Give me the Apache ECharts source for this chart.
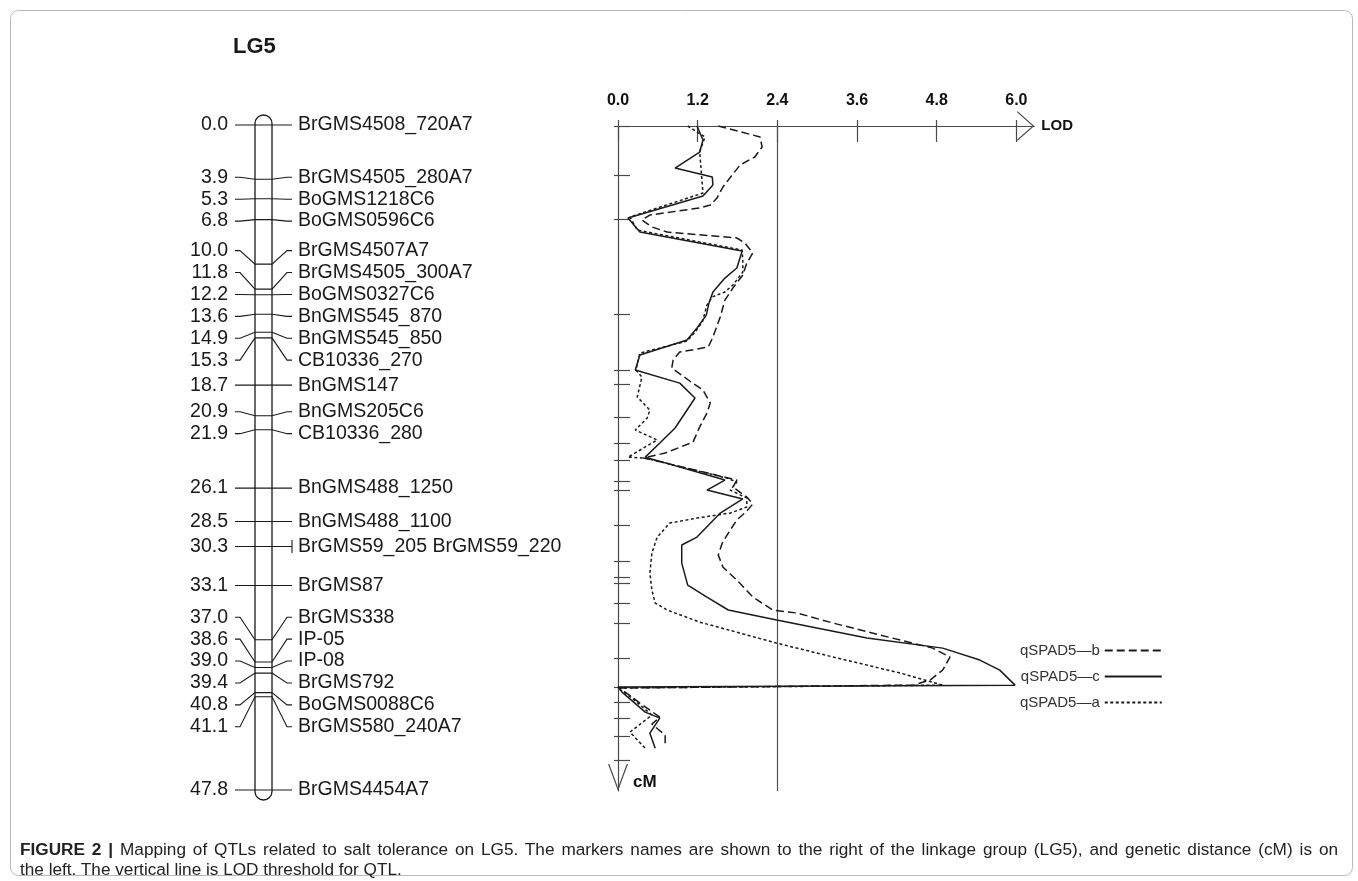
<!DOCTYPE html>
<html>
<head>
<meta charset="utf-8">
<title>LG5 QTL map</title>
<script src="https://cdn.jsdelivr.net/npm/echarts@6/dist/echarts.min.js"></script>
<style>
  html, body { margin: 0; padding: 0; background: #fff; }
  #chart { position: absolute; left: 0; top: 0; width: 1358px; height: 881px; }
  #caption { position: absolute; left: 20px; top: 839px; width: 1318px;
             font: 17.2px "Liberation Sans", Arial, sans-serif; color: #222; line-height: 20px; }
  #caption .l1 { text-align: justify; text-align-last: justify; }
</style>
</head>
<body>
<div id="chart"></div>
<div id="caption">
  <div class="l1"><b>FIGURE 2 |</b> Mapping of QTLs related to salt tolerance on LG5. The markers names are shown to the right of the linkage group (LG5), and genetic distance (cM) is on</div>
  <div>the left. The vertical line is LOD threshold for QTL.</div>
</div>
<script>
// ---- linkage group LG5: marker positions (cM) and names ----
const lgName = 'LG5';
const lgLength = 47.8;
const markerCM = [0.0, 3.9, 5.3, 6.8, 10.0, 11.8, 12.2, 13.6, 14.9, 15.3, 18.7, 20.9, 21.9,
                  26.1, 28.5, 30.3, 33.1, 37.0, 38.6, 39.0, 39.4, 40.8, 41.1, 47.8];
const markerNames = ['BrGMS4508_720A7', 'BrGMS4505_280A7', 'BoGMS1218C6', 'BoGMS0596C6',
  'BrGMS4507A7', 'BrGMS4505_300A7', 'BoGMS0327C6', 'BnGMS545_870', 'BnGMS545_850',
  'CB10336_270', 'BnGMS147', 'BnGMS205C6', 'CB10336_280', 'BnGMS488_1250', 'BnGMS488_1100',
  'BrGMS59_205 BrGMS59_220', 'BrGMS87', 'BrGMS338', 'IP-05', 'IP-08', 'BrGMS792',
  'BoGMS0088C6', 'BrGMS580_240A7', 'BrGMS4454A7'];

// ---- LOD profile axes ----
const lodTicks = [0.0, 1.2, 2.4, 3.6, 4.8, 6.0];
const cmTicks = [0, 3.52, 6.69, 13.52, 17.59, 18.57, 20.90, 22.77, 24.01, 25.50, 26.17, 28.68,
                 31.32, 32.40, 32.88, 34.32, 35.75, 38.27, 40.31, 41.39, 42.58, 43.83, 45.58];
const lodThreshold = 2.4;

// ---- LOD profiles, [LOD, cM] ----
const qSPAD5b = [[1.51,0],[2.14,0.79],[2.17,1.51],[2.06,2.23],[1.84,2.80],[1.72,3.52],[1.58,4.39],
  [1.49,5.18],[1.39,5.68],[1.23,5.89],[0.48,6.40],[0.36,6.76],[0.51,7.26],[0.74,7.62],[1.79,8.05],
  [1.91,8.41],[2.03,9.13],[1.94,9.85],[1.88,10.71],[1.73,11.65],[1.61,12.51],[1.54,13.73],
  [1.43,15.17],[1.36,15.89],[0.93,16.25],[0.83,16.82],[0.81,17.40],[1.08,18.33],[1.28,18.98],
  [1.39,19.91],[1.34,20.63],[1.23,21.64],[1.13,22.72],[0.71,23.51],[0.38,23.87],[0.53,24.01],
  [1.79,25.45],[1.73,25.95],[1.94,26.67],[2.03,27.17],[1.94,27.68],[1.79,28.32],[1.69,29.04],
  [1.57,29.98],[1.51,30.84],[1.58,31.70],[1.79,32.64],[2.03,33.86],[2.33,34.79],[2.70,35.01],
  [3.24,35.73],[4.25,36.95],[4.74,37.53],[5.00,38.17],[4.89,39.11],[4.70,39.83],[4.44,40.19],
  [0.03,40.40],[0.33,41.48],[0.63,42.49],[0.51,42.99],[0.71,43.78],[0.71,44.50]];
const qSPAD5c = [[1.19,0],[1.28,1.01],[1.23,1.87],[0.86,3.02],[1.42,3.67],[1.43,4.24],[1.28,5.03],
  [0.15,6.61],[0.33,7.62],[1.87,8.99],[1.79,10.21],[1.61,10.93],[1.43,11.93],[1.37,12.72],
  [1.33,13.59],[1.19,14.52],[1.04,15.38],[0.33,16.46],[0.26,17.54],[0.93,18.48],[1.16,19.55],
  [0.86,21.71],[0.63,22.79],[0.41,23.80],[1.61,25.45],[1.34,26.17],[1.88,26.81],[1.54,27.82],
  [1.19,29.55],[0.96,30.12],[0.96,31.42],[1.05,33.00],[1.34,33.86],[1.66,34.79],[2.39,35.51],
  [3.75,36.81],[4.89,37.53],[5.45,38.39],[5.75,39.11],[5.98,40.19],[0.00,40.33],[0.06,40.69],
  [0.41,42.13],[0.63,42.56],[0.48,43.64],[0.56,44.72]];
const qSPAD5a = [[1.05,0],[1.31,0.79],[1.23,1.87],[1.28,4.82],[0.18,6.54],[0.29,7.48],[1.87,8.92],
  [1.88,9.78],[1.88,10.50],[1.73,11.43],[1.61,11.93],[1.42,12.29],[1.34,12.87],[1.27,14.09],
  [1.16,14.81],[1.04,15.46],[0.33,16.32],[0.27,17.54],[0.36,18.04],[0.29,19.48],[0.48,20.42],
  [0.44,20.99],[0.26,21.85],[0.59,22.57],[0.15,23.80],[0.41,23.87],[1.64,25.31],[1.79,25.59],
  [1.69,26.17],[1.94,26.74],[1.94,27.39],[1.69,27.82],[1.19,28.18],[0.78,28.54],[0.59,29.55],
  [0.51,30.70],[0.48,32.14],[0.51,33.36],[0.56,34.29],[0.74,34.79],[1.23,35.66],[2.39,37.17],
  [3.24,38.17],[4.25,39.32],[4.89,40.19],[0.00,40.40],[0.21,41.12],[0.51,42.34],[0.18,43.57],
  [0.41,44.72]];

// ---- drawing constants ----
const INK = '#1a1a1a';
const AXIS_INK = '#4a4a4a';
const SANS = '"Liberation Sans", Arial, sans-serif';
const LG_FONT = '19.5px "Liberation Sans", Arial, sans-serif';
const LG_HEIGHT = 665;
const LABEL_GAP_PX = 21.9;

// Spread marker labels so neighbouring ones keep a minimum gap; overlapping runs
// are merged and centred on their markers (least squares).
function spreadLabels(pos, gap) {
  const groups = pos.map((p, i) => ({ first: i, n: 1, start: p }));
  const place = g => {
    let s = 0;
    for (let k = 0; k < g.n; k++) s += pos[g.first + k] - k * gap;
    g.start = s / g.n;
  };
  let merged = true;
  while (merged) {
    merged = false;
    for (let i = 0; i < groups.length - 1; i++) {
      const a = groups[i], b = groups[i + 1];
      if (b.start - (a.start + (a.n - 1) * gap) < gap - 1e-9) {
        const g = { first: a.first, n: a.n + b.n, start: 0 };
        place(g);
        groups.splice(i, 2, g);
        merged = true;
        break;
      }
    }
  }
  const out = [];
  groups.forEach(g => { for (let k = 0; k < g.n; k++) out.push(g.start + k * gap); });
  return out;
}
const labelCM = spreadLabels(markerCM, LABEL_GAP_PX / (LG_HEIGHT / lgLength));

function renderChromosome(params, api) {
  const a = api.coord([0, 0]);
  const b = api.coord([1, lgLength]);
  const w = b[0] - a[0];
  const cap = w / 2 + 1.5;
  return {
    type: 'rect',
    shape: { x: a[0], y: a[1] - cap, width: w, height: b[1] - a[1] + 2 * cap, r: w / 2 },
    style: { fill: '#fff', stroke: INK, lineWidth: 1.3 }
  };
}

function renderMarker(params, api) {
  const i = params.dataIndex;
  const xL = api.coord([0, 0])[0];
  const xR = api.coord([1, 0])[0];
  const yM = api.coord([0, markerCM[i]])[1];
  const yT = api.coord([0, labelCM[i]])[1];
  const line = { stroke: INK, lineWidth: 1.1, fill: null };
  const children = [
    { type: 'polyline',
      shape: { points: [[xL - 20, yT], [xL - 15, yT], [xL, yM], [xR, yM], [xR + 15, yT], [xR + 20, yT]] },
      style: line },
    { type: 'text',
      style: { text: markerCM[i].toFixed(1), x: xL - 27, y: yT, align: 'right', verticalAlign: 'middle', font: LG_FONT, fill: INK } },
    { type: 'text',
      style: { text: markerNames[i], x: xR + 26, y: yT, align: 'left', verticalAlign: 'middle', font: LG_FONT, fill: INK } }
  ];
  if (markerNames[i].indexOf(' ') >= 0) {
    // several markers share this position
    children.push({ type: 'line', shape: { x1: xR + 20, y1: yT - 6.5, x2: xR + 20, y2: yT + 6.5 }, style: line });
  }
  return { type: 'group', children };
}

const chart = echarts.init(document.getElementById('chart'), null, { renderer: 'canvas' });
const axisLineStyle = { color: AXIS_INK, width: 1.2 };
const lineBase = { type: 'line', xAxisIndex: 1, yAxisIndex: 1, symbol: 'none', showSymbol: false,
                   smooth: false, clip: false, z: 5 };

chart.setOption({
  animation: false,
  backgroundColor: '#fff',
  title: { text: lgName, left: 233, top: 36, padding: 0,
           textStyle: { fontFamily: SANS, fontWeight: 'bold', fontSize: 22, color: INK } },
  legend: {
    orient: 'vertical', left: 1020, top: 643, padding: 0, align: 'right',
    itemWidth: 57, itemHeight: 12, itemGap: 11, selectedMode: false,
    itemStyle: { color: 'rgba(0,0,0,0)', borderWidth: 0, opacity: 0 },
    textStyle: { fontFamily: SANS, fontSize: 15, color: '#333' },
    data: ['qSPAD5—b', 'qSPAD5—c', 'qSPAD5—a']
  },
  grid: [
    { left: 255, top: 125, width: 17, height: LG_HEIGHT, outerBoundsMode: 'none' },
    { left: 618, top: 126, width: 416.3, height: LG_HEIGHT, outerBoundsMode: 'none' }
  ],
  xAxis: [
    { gridIndex: 0, type: 'value', min: 0, max: 1, show: false },
    { gridIndex: 1, type: 'value', position: 'top', min: 0, max: 6.27,
      axisLine: { show: true, onZero: false, lineStyle: axisLineStyle,
                  symbol: ['none', 'path://M0,17L15,0L30,17L28.4,17L15,1.81L1.6,17Z'],
                  symbolSize: [30, 17], symbolOffset: [0, -8.5] },
      axisTick: { show: true, inside: true, length: 16, customValues: lodTicks, lineStyle: axisLineStyle },
      axisLabel: { show: true, customValues: lodTicks, formatter: v => v.toFixed(1), margin: 17,
                   color: '#111', fontFamily: SANS, fontWeight: 'bold', fontSize: 16 },
      splitLine: { show: false },
      name: 'LOD', nameLocation: 'end', nameGap: 7,
      nameTextStyle: { fontFamily: SANS, fontWeight: 'bold', fontSize: 15, color: '#111' } },
    { gridIndex: 1, type: 'value', position: 'top', min: 0, max: 6.27,
      axisLine: { show: false }, axisLabel: { show: false }, splitLine: { show: false },
      axisTick: { show: true, inside: false, length: 6, customValues: lodTicks, lineStyle: axisLineStyle } }
  ],
  yAxis: [
    { gridIndex: 0, type: 'value', inverse: true, min: 0, max: lgLength, show: false },
    { gridIndex: 1, type: 'value', inverse: true, min: 0, max: lgLength, position: 'left',
      axisLine: { show: true, onZero: false, lineStyle: axisLineStyle,
                  symbol: ['path://M0,27L10,0L20,27L18.7,27L10,3.5L1.3,27Z', 'none'],
                  symbolSize: [20, 27], symbolOffset: [13.5, 0] },
      axisTick: { show: true, inside: true, length: 12, customValues: cmTicks, lineStyle: axisLineStyle },
      axisLabel: { show: false }, splitLine: { show: false } },
    { gridIndex: 1, type: 'value', inverse: true, min: 0, max: lgLength, position: 'left',
      axisLine: { show: false }, axisLabel: { show: false }, splitLine: { show: false },
      axisTick: { show: true, inside: false, length: 4, customValues: cmTicks, lineStyle: axisLineStyle } }
  ],
  series: [
    { type: 'custom', name: 'chromosome', xAxisIndex: 0, yAxisIndex: 0, clip: false, z: 1,
      renderItem: renderChromosome, data: [[0, 0]] },
    { type: 'custom', name: 'markers', xAxisIndex: 0, yAxisIndex: 0, clip: false, z: 2,
      renderItem: renderMarker, data: markerCM.map(c => [0.5, c]) },
    Object.assign({}, lineBase, { name: 'qSPAD5—b', data: qSPAD5b,
      itemStyle: { color: INK }, lineStyle: { color: INK, width: 1.5, type: [8, 4] } }),
    Object.assign({}, lineBase, { name: 'qSPAD5—c', data: qSPAD5c,
      itemStyle: { color: INK }, lineStyle: { color: INK, width: 1.5, type: 'solid' },
      markLine: { silent: true, symbol: 'none', label: { show: false },
                  lineStyle: { color: '#555', width: 1.2, type: 'solid' },
                  data: [{ xAxis: lodThreshold }] } }),
    Object.assign({}, lineBase, { name: 'qSPAD5—a', data: qSPAD5a,
      itemStyle: { color: INK }, lineStyle: { color: INK, width: 1.5, type: [3, 2.5] } })
  ]
});

// frame and the distance-axis title, placed from the axis scale
const axisEnd = chart.convertToPixel({ gridIndex: 1 }, [0, lgLength]);
chart.setOption({
  graphic: [
    { type: 'rect', left: 8, top: 8, silent: true,
      shape: { width: 1342, height: 865, r: 8 },
      style: { fill: 'none', stroke: '#b8b8b8', lineWidth: 1 } },
    { type: 'text', x: axisEnd[0] + 15, y: axisEnd[1] - 9, silent: true,
      style: { text: 'cM', font: 'bold 17px "Liberation Sans", Arial, sans-serif', fill: '#111', verticalAlign: 'middle' } }
  ]
});
</script>
</body>
</html>
